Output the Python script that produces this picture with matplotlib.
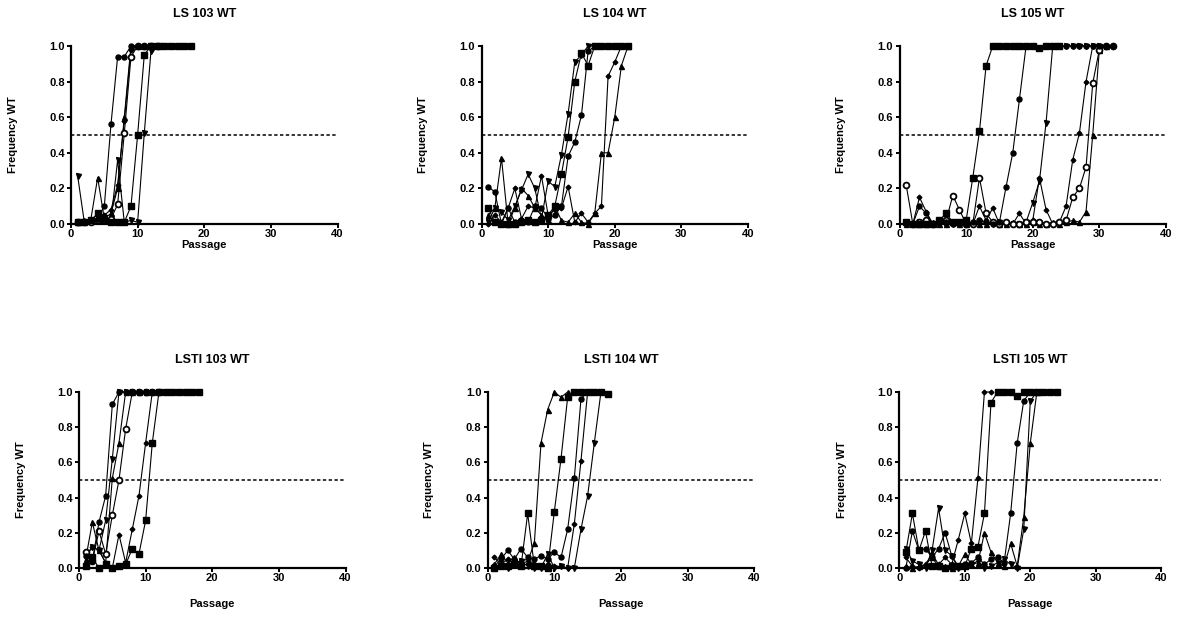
import numpy as np
import matplotlib
matplotlib.use("Agg")
import matplotlib.pyplot as plt

plt.rcParams['font.family'] = ['Liberation Sans', 'DejaVu Sans']
plt.rcParams['font.weight'] = 'bold'

# ---- LS 103 WT ----
ls103_circle = [0.01, 0.01, 0.02, 0.03, 0.10, 0.56, 0.94, 0.94, 1.0, 1.0, 1.0, 1.0, 1.0, 1.0, 1.0, 1.0, 1.0, 1.0]
ls103_square = [0.01, 0.01, 0.02, 0.06, 0.02, 0.01, 0.01, 0.01, 0.10, 0.50, 0.95, 1.0, 1.0, 1.0, 1.0, 1.0, 1.0, 1.0]
ls103_tri_up = [0.01, 0.02, 0.03, 0.26, 0.03, 0.06, 0.20, 0.60, 1.0, 1.0, 1.0, 1.0]
ls103_tri_down = [0.27, 0.01, 0.01, 0.02, 0.04, 0.02, 0.36, 0.01, 0.02, 0.01, 0.51, 0.97, 1.0, 1.0, 1.0]
ls103_diamond = [0.01, 0.01, 0.02, 0.03, 0.05, 0.08, 0.22, 0.58, 0.98, 1.0, 1.0, 1.0]
ls103_open = [0.01, 0.01, 0.01, 0.02, 0.02, 0.03, 0.11, 0.51, 0.94, 1.0, 1.0, 1.0, 1.0]

# ---- LS 104 WT ----
ls104_square = [0.09, 0.01, 0.0, 0.0, 0.0, 0.01, 0.02, 0.01, 0.02, 0.05, 0.10, 0.28, 0.49, 0.80, 0.96, 0.89,
                1.0, 1.0, 1.0, 1.0, 1.0, 1.0]
ls104_circle = [0.21, 0.18, 0.0, 0.09, 0.01, 0.02, 0.01, 0.10, 0.09, 0.03, 0.05, 0.10, 0.38, 0.46, 0.61, 0.97,
                1.0, 1.0, 1.0, 1.0]
ls104_tri_down = [0.01, 0.09, 0.07, 0.02, 0.10, 0.19, 0.28, 0.20, 0.03, 0.24, 0.21, 0.39, 0.62, 0.91, 0.95,
                  1.0, 1.0]
ls104_tri_up = [0.05, 0.09, 0.37, 0.0, 0.09, 0.20, 0.16, 0.09, 0.05, 0.02, 0.10, 0.02, 0.01, 0.06, 0.01, 0.0,
                0.06, 0.40, 0.40, 0.60, 0.89, 1.0]
ls104_diamond = [0.0, 0.05, 0.01, 0.09, 0.20, 0.03, 0.10, 0.09, 0.27, 0.05, 0.08, 0.09, 0.21, 0.01, 0.06, 0.01,
                 0.06, 0.10, 0.83, 0.91, 1.0]

# ---- LS 105 WT ----
ls105_square = [0.01, 0.0, 0.0, 0.0, 0.0, 0.02, 0.06, 0.01, 0.01, 0.02, 0.26, 0.52, 0.89, 1.0, 1.0, 1.0, 1.0,
                1.0, 1.0, 1.0, 0.99, 1.0, 1.0, 1.0]
ls105_circle = [0.01, 0.0, 0.10, 0.06, 0.0, 0.01, 0.01, 0.0, 0.01, 0.0, 0.01, 0.02, 0.01, 0.0, 0.01, 0.21,
                0.40, 0.70, 1.0, 1.0, 0.99, 1.0, 1.0, 1.0, 1.0, 1.0, 1.0, 1.0, 1.0, 1.0, 1.0, 1.0]
ls105_tri_down = [0.0, 0.0, 0.01, 0.0, 0.0, 0.01, 0.0, 0.0, 0.0, 0.01, 0.0, 0.01, 0.0, 0.0, 0.01, 0.0, 0.0,
                  0.0, 0.01, 0.12, 0.24, 0.57, 1.0, 1.0, 1.0, 1.0, 1.0, 1.0, 1.0, 1.0]
ls105_diamond = [0.01, 0.0, 0.15, 0.07, 0.0, 0.01, 0.0, 0.01, 0.0, 0.0, 0.0, 0.10, 0.02, 0.09, 0.0, 0.01,
                 0.0, 0.06, 0.0, 0.02, 0.26, 0.08, 0.0, 0.01, 0.10, 0.36, 0.51, 0.80, 1.0, 1.0, 1.0]
ls105_open = [0.22, 0.0, 0.01, 0.02, 0.0, 0.01, 0.02, 0.16, 0.08, 0.0, 0.0, 0.26, 0.06, 0.01, 0.0, 0.01,
              0.0, 0.0, 0.01, 0.01, 0.01, 0.0, 0.0, 0.01, 0.02, 0.15, 0.20, 0.32, 0.79, 0.98, 1.0, 1.0]
ls105_tri_up = [0.0, 0.01, 0.0, 0.0, 0.01, 0.0, 0.0, 0.01, 0.0, 0.0, 0.01, 0.0, 0.0, 0.01, 0.0, 0.0, 0.01,
                0.0, 0.0, 0.01, 0.0, 0.0, 0.01, 0.0, 0.01, 0.02, 0.01, 0.07, 0.50, 0.98, 1.0]

# ---- LSTI 103 WT ----
lsti103_circle = [0.07, 0.04, 0.26, 0.41, 0.93, 1.0, 1.0, 1.0, 1.0, 1.0, 1.0, 1.0]
lsti103_tri_down = [0.06, 0.12, 0.10, 0.27, 0.62, 1.0, 1.0, 1.0, 1.0, 1.0, 1.0, 1.0]
lsti103_tri_up = [0.05, 0.26, 0.10, 0.03, 0.51, 0.71, 1.0, 1.0, 1.0, 1.0, 1.0]
lsti103_open = [0.09, 0.04, 0.21, 0.08, 0.30, 0.50, 0.79, 1.0, 1.0, 1.0, 1.0, 1.0]
lsti103_diamond = [0.07, 0.12, 0.10, 0.03, 0.0, 0.19, 0.03, 0.22, 0.41, 0.71, 1.0, 1.0, 1.0, 1.0, 1.0]
lsti103_square = [0.01, 0.06, 0.0, 0.02, 0.0, 0.01, 0.02, 0.11, 0.08, 0.27, 0.71, 1.0, 1.0, 1.0, 1.0, 1.0,
                  1.0, 1.0]

# ---- LSTI 104 WT ----
lsti104_tri_up = [0.02, 0.08, 0.03, 0.06, 0.02, 0.04, 0.14, 0.71, 0.90, 1.0, 0.97, 1.0]
lsti104_square = [0.0, 0.01, 0.01, 0.02, 0.01, 0.31, 0.01, 0.01, 0.0, 0.32, 0.62, 0.97, 1.0, 1.0, 1.0, 1.0,
                  1.0, 0.99]
lsti104_circle = [0.01, 0.05, 0.10, 0.05, 0.11, 0.06, 0.05, 0.07, 0.05, 0.09, 0.06, 0.22, 0.51, 0.96, 1.0,
                  1.0, 1.0, 0.99]
lsti104_diamond = [0.06, 0.02, 0.05, 0.02, 0.04, 0.05, 0.02, 0.01, 0.02, 0.01, 0.01, 0.0, 0.25, 0.61, 1.0, 1.0]
lsti104_tri_down = [0.0, 0.01, 0.0, 0.02, 0.04, 0.01, 0.0, 0.0, 0.08, 0.0, 0.01, 0.0, 0.0, 0.22, 0.41, 0.71, 1.0]

# ---- LSTI 105 WT ----
lsti105_diamond = [0.06, 0.01, 0.0, 0.02, 0.08, 0.02, 0.06, 0.02, 0.16, 0.31, 0.14, 0.51, 1.0, 1.0]
lsti105_square = [0.09, 0.31, 0.10, 0.21, 0.01, 0.01, 0.0, 0.01, 0.01, 0.01, 0.11, 0.12, 0.31, 0.94, 1.0,
                  1.0, 1.0, 0.98, 1.0, 1.0, 1.0, 1.0, 1.0, 1.0]
lsti105_circle = [0.0, 0.21, 0.10, 0.11, 0.06, 0.11, 0.20, 0.07, 0.01, 0.02, 0.03, 0.06, 0.02, 0.05, 0.06,
                  0.03, 0.31, 0.71, 0.95, 1.0, 1.0]
lsti105_tri_down = [0.11, 0.04, 0.02, 0.0, 0.10, 0.34, 0.10, 0.07, 0.0, 0.01, 0.02, 0.04, 0.0, 0.01, 0.03,
                    0.05, 0.02, 0.0, 0.22, 0.95, 1.0]
lsti105_tri_up = [0.01, 0.0, 0.01, 0.02, 0.06, 0.01, 0.01, 0.0, 0.01, 0.08, 0.02, 0.03, 0.20, 0.09, 0.03,
                  0.01, 0.14, 0.01, 0.29, 0.71, 1.0]

titles = ["LS 103 WT", "LS 104 WT", "LS 105 WT", "LSTI 103 WT", "LSTI 104 WT", "LSTI 105 WT"]

# marker style per series kind
styles = {
    'circle': dict(marker='o', ms=3.6, mfc='black', mec='black'),
    'square': dict(marker='s', ms=4.6, mfc='black', mec='black'),
    'tri_up': dict(marker='^', ms=3.6, mfc='black', mec='black'),
    'tri_down': dict(marker='v', ms=3.6, mfc='black', mec='black'),
    'diamond': dict(marker='D', ms=2.4, mfc='black', mec='black'),
    'open': dict(marker='o', ms=4.2, mfc='white', mec='black', mew=1.3),
}

panels = [
    [('tri_down', ls103_tri_down), ('diamond', ls103_diamond), ('tri_up', ls103_tri_up),
     ('open', ls103_open), ('square', ls103_square), ('circle', ls103_circle)],
    [('tri_down', ls104_tri_down), ('diamond', ls104_diamond), ('tri_up', ls104_tri_up),
     ('circle', ls104_circle), ('square', ls104_square)],
    [('tri_down', ls105_tri_down), ('diamond', ls105_diamond), ('tri_up', ls105_tri_up),
     ('open', ls105_open), ('circle', ls105_circle), ('square', ls105_square)],
    [('tri_down', lsti103_tri_down), ('diamond', lsti103_diamond), ('tri_up', lsti103_tri_up),
     ('open', lsti103_open), ('circle', lsti103_circle), ('square', lsti103_square)],
    [('tri_down', lsti104_tri_down), ('diamond', lsti104_diamond), ('tri_up', lsti104_tri_up),
     ('circle', lsti104_circle), ('square', lsti104_square)],
    [('tri_down', lsti105_tri_down), ('diamond', lsti105_diamond), ('tri_up', lsti105_tri_up),
     ('circle', lsti105_circle), ('square', lsti105_square)],
]

W, H = 1184, 619
fig = plt.figure(figsize=(W / 100, H / 100), dpi=100)

# axes boxes in pixels: left, bottom(from top), width, height
boxes = [(71, 224, 266.5, 178), (481.5, 224, 266.5, 178), (899.5, 224, 266.5, 178),
         (79, 568, 266.5, 176), (487.7, 568, 266.5, 176), (899.3, 568, 262, 176)]

for i, (box, title, series) in enumerate(zip(boxes, titles, panels)):
    l, b, w, h = box
    ax = fig.add_axes([l / W, (H - b) / H, w / W, h / H])
    for kind, vals in series:
        x = np.arange(1, len(vals) + 1)
        ax.plot(x, vals, color='black', lw=0.8, clip_on=False, zorder=3, **styles[kind])
    ax.axhline(0.5, color='black', lw=1.1, ls=(0, (2.2, 1.6)), zorder=2)

    ax.set_xlim(0, 40)
    ax.set_ylim(0, 1.0)
    ax.set_xticks([0, 10, 20, 30, 40])
    ax.set_yticks([0.0, 0.2, 0.4, 0.6, 0.8, 1.0])
    ax.set_yticklabels(['0.0', '0.2', '0.4', '0.6', '0.8', '1.0'])
    for s in ['top', 'right']:
        ax.spines[s].set_visible(False)
    for s in ['left', 'bottom']:
        ax.spines[s].set_linewidth(1.6)
    ax.tick_params(axis='both', length=3, width=1.4, labelsize=8, pad=1.5)
    ax.tick_params(axis='x', pad=0.8)
    for lab in ax.get_xticklabels() + ax.get_yticklabels():
        lab.set_fontweight('bold')

    ax.set_title(title, fontsize=9, fontweight='bold', pad=21)
    ax.set_ylabel('Frequency WT', fontsize=8, fontweight='bold')
    ax.set_xlabel('Passage', fontsize=8, fontweight='bold')
    ax.yaxis.set_label_coords(-0.20, 0.5)
    if i < 3:
        ax.xaxis.set_label_coords(0.5, -0.088)
    else:
        ax.xaxis.set_label_coords(0.5, -0.175)

fig.savefig('out.png', dpi=100)
